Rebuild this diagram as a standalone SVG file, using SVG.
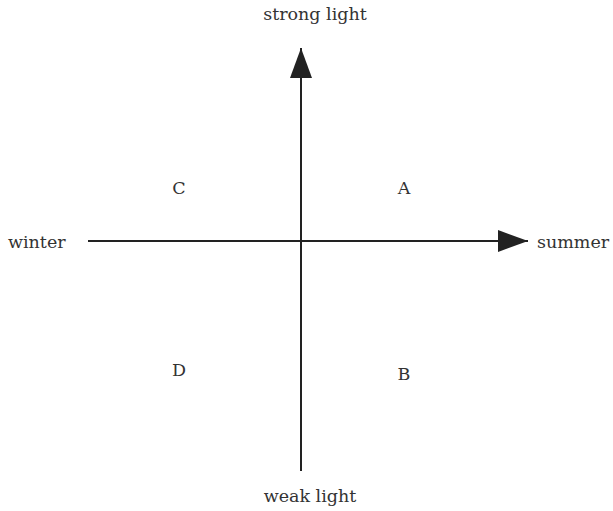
<svg xmlns="http://www.w3.org/2000/svg" width="613" height="511" viewBox="0 0 613 511">
<style>
text{font-family:"DejaVu Serif","Liberation Serif",serif;font-size:17.5px;fill:#333}
.ax{stroke:#222;stroke-width:2;fill:none}
</style>
<defs>
<marker id="ah" markerUnits="userSpaceOnUse" markerWidth="32" markerHeight="24" refX="30" refY="11" orient="auto">
<path d="M0,0 L30,11 L0,22 Z" fill="#222"/>
</marker>
</defs>
<rect width="613" height="511" fill="#fff"/>
<g id="connectors">
<line class="ax" x1="301" y1="471" x2="301" y2="48" marker-end="url(#ah)"/>
<line class="ax" x1="88" y1="241" x2="528" y2="241" marker-end="url(#ah)"/>
</g>
<g id="n-strong"><text x="315" y="20" text-anchor="middle">strong light</text></g>
<g id="n-weak"><text x="310" y="502" text-anchor="middle">weak light</text></g>
<g id="n-winter"><text x="8" y="248">winter</text></g>
<g id="n-summer"><text x="537" y="248">summer</text></g>
<g id="n-C"><text x="179" y="194" text-anchor="middle">C</text></g>
<g id="n-A"><text x="404" y="194" text-anchor="middle">A</text></g>
<g id="n-D"><text x="179" y="376" text-anchor="middle">D</text></g>
<g id="n-B"><text x="404" y="380" text-anchor="middle">B</text></g>
</svg>
